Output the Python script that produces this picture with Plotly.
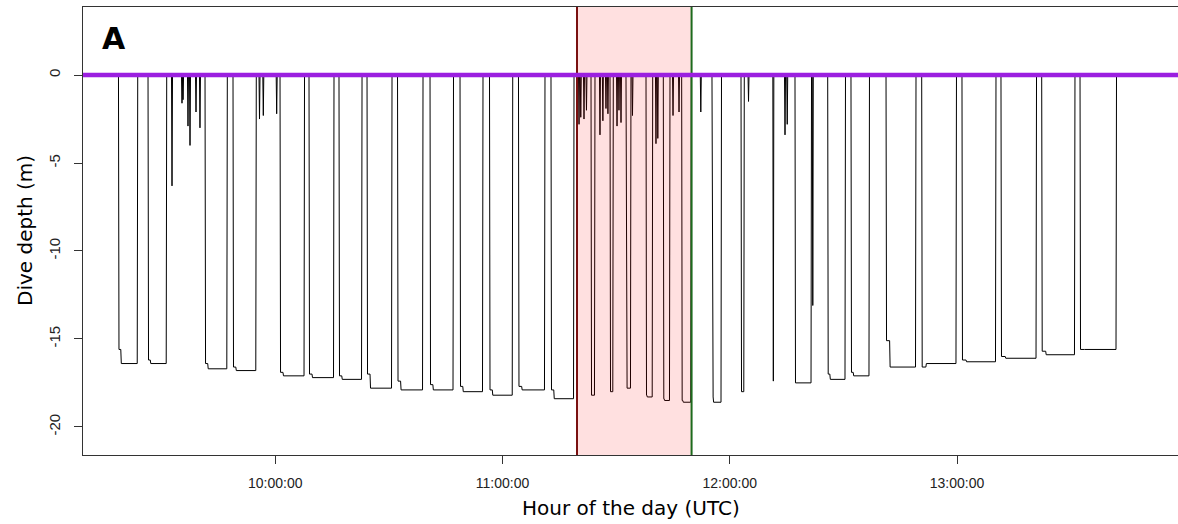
import plotly.graph_objects as go
from datetime import datetime, timedelta

DAY = "2019-07-15"

# Deep dives: start / end clock time (UTC), depth reached at first, and main bottom depth (m)
dive_start = ["09:18:37", "09:26:25", "09:41:28", "09:48:51", "10:01:16", "10:08:55", "10:16:50",
              "10:24:14", "10:32:17", "10:40:52", "10:48:47", "10:56:34", "11:04:13", "11:12:48",
              "11:23:22", "11:28:23", "11:32:36", "11:37:53", "11:42:27", "11:47:18",
              "11:55:18", "12:02:58", "12:17:13", "12:25:51", "12:32:00", "12:41:15", "12:50:40",
              "13:01:18", "13:11:36", "13:22:21", "13:32:28"]
dive_end = ["09:23:42", "09:31:21", "09:47:21", "09:55:00", "10:07:44", "10:15:31", "10:22:55",
            "10:30:50", "10:39:01", "10:47:04", "10:54:51", "11:02:42", "11:11:13", "11:18:53",
            "11:24:25", "11:29:15", "11:33:55", "11:39:39", "11:44:13", "11:49:50",
            "11:57:49", "12:03:50", "12:21:35", "12:30:33", "12:36:53", "12:49:10", "12:59:51",
            "13:10:17", "13:20:59", "13:31:08", "13:42:06"]
bottom_first = [-15.6, -16.2, -16.4, -16.6, -16.9, -17.0, -17.1, -17.0, -17.4, -17.6, -17.7, -17.9,
                -17.7, -17.9, -18.2, -18.0, -17.8, -18.2, -18.4, -18.5, -18.3, -18.0, -17.5, -17.0,
                -16.9, -15.1, -16.6, -16.2, -16.0, -15.7, -15.6]
bottom_main = [-16.4, -16.4, -16.7, -16.8, -17.1, -17.2, -17.3, -17.8, -17.9, -17.9, -18.0, -18.2,
               -17.9, -18.4, -18.2, -18.0, -17.8, -18.3, -18.5, -18.6, -18.6, -18.0, -17.5, -17.3,
               -17.1, -16.6, -16.4, -16.3, -16.1, -15.9, -15.6]

# Short excursions (time of max depth, max depth in m)
spike_time = ["09:32:45", "09:35:23", "09:35:40", "09:36:58", "09:37:30", "09:39:05", "09:40:08",
              "09:55:51", "09:56:51", "10:00:23", "11:20:12", "11:20:40", "11:21:31", "11:22:10",
              "11:25:44", "11:26:30", "11:27:19", "11:27:50", "11:30:14", "11:30:45", "11:31:17",
              "11:34:19", "11:40:31", "11:41:00", "11:45:01", "11:46:36", "11:52:21", "12:04:57",
              "12:11:30", "12:14:35", "12:15:10", "12:21:55"]
spike_depth = [-6.3, -1.6, -1.4, -2.9, -4.0, -2.1, -3.0, -2.5, -2.3, -2.2, -2.8, -2.4, -2.5, -2.0,
               -3.4, -2.6, -1.9, -2.2, -2.9, -2.0, -2.7, -2.3, -3.9, -3.6, -2.3, -2.1, -2.1, -1.5,
               -17.4, -3.4, -2.8, -13.1]

# Period of interest (shaded) and axis settings
period_start = "11:19:40"
period_end = "11:49:55"
x_range = ["09:09:15", "13:58:20"]
x_ticks = ["10:00:00", "11:00:00", "12:00:00", "13:00:00"]
y_range = [-21.6, 3.87]
y_ticks = [-20, -15, -10, -5, 0]
y_ticklabels = ["-20", "-15", "-10", "-5", "0"]


def ts(s):
    return datetime.strptime(f"{DAY} {s}", "%Y-%m-%d %H:%M:%S")


dt = timedelta(seconds=8)
segments = []
for s0, s1, b0, b1 in zip(dive_start, dive_end, bottom_first, bottom_main):
    t0, t1 = ts(s0), ts(s1)
    step = t0 + (t1 - t0) * 0.12
    segments.append([(t0, 0), (t0 + dt, b0), (step, b0), (step + dt, b1), (t1 - dt, b1), (t1, 0)])
for s, d in zip(spike_time, spike_depth):
    t = ts(s)
    segments.append([(t - dt, 0), (t, d), (t + dt, 0)])
segments.sort(key=lambda seg: seg[0][0])

xs, ys = [], []
for seg in segments:
    for t, d in seg:
        xs.append(t)
        ys.append(d)

fig = go.Figure()
fig.add_trace(go.Scatter(x=xs, y=ys, mode="lines",
                         line=dict(color="black", width=1), hoverinfo="skip",
                         showlegend=False))

AX = "#333333"
fig.update_layout(
    width=1178, height=524,
    margin=dict(l=83, r=0, t=7, b=69),
    paper_bgcolor="white", plot_bgcolor="white",
    showlegend=False,
    xaxis=dict(type="date", range=[ts(x_range[0]), ts(x_range[1])],
               tickvals=[ts(t) for t in x_ticks], ticktext=x_ticks,
               ticks="outside", ticklen=8, tickwidth=1, tickcolor=AX,
               showline=True, linecolor=AX, linewidth=1.2, mirror=True,
               showgrid=False, zeroline=False, ticklabelstandoff=7,
               tickfont=dict(family="Liberation Sans, Arial", size=14, color="#222222")),
    yaxis=dict(range=y_range, tickvals=y_ticks, ticktext=y_ticklabels, tickangle=-90,
               ticks="outside", ticklen=8, tickwidth=1, tickcolor=AX,
               showline=True, linecolor=AX, linewidth=1.2, mirror=False,
               showgrid=False, zeroline=False, ticklabelstandoff=8,
               tickfont=dict(family="Liberation Sans, Arial", size=15, color="#222222")),
)

fig.add_shape(type="rect", xref="x", yref="paper",
              x0=ts(period_start), x1=ts(period_end), y0=0, y1=1,
              fillcolor="rgba(255,0,0,0.12)", line=dict(width=0), layer="above")
fig.add_shape(type="line", xref="x", yref="paper",
              x0=ts(period_start), x1=ts(period_start), y0=0, y1=1,
              line=dict(color="#7a1010", width=2), layer="above")
fig.add_shape(type="line", xref="x", yref="paper",
              x0=ts(period_end), x1=ts(period_end), y0=0, y1=1,
              line=dict(color="#1d6b1d", width=2), layer="above")
fig.add_shape(type="line", xref="paper", yref="y",
              x0=0, x1=1, y0=0, y1=0,
              line=dict(color="#9b1fe0", width=4.5), layer="above")

fig.add_annotation(text="<b>A</b>", xref="paper", yref="paper",
                   x=(114 - 83) / 1095, y=(455 - 39) / 448,
                   xanchor="center", yanchor="middle", showarrow=False,
                   font=dict(family="DejaVu Sans", size=30, color="black"))
fig.add_annotation(text="Hour of the day (UTC)", xref="paper", yref="paper",
                   x=0.5, y=(455 - 508) / 448, xanchor="center", yanchor="middle",
                   showarrow=False,
                   font=dict(family="DejaVu Sans", size=20, color="black"))
fig.add_annotation(text="Dive depth (m)", xref="paper", yref="paper",
                   x=(25 - 83) / 1095, y=0.5, xanchor="center", yanchor="middle",
                   textangle=-90, showarrow=False,
                   font=dict(family="DejaVu Sans", size=20, color="black"))

fig.write_html("out.html", config={"displayModeBar": False},
               post_script="document.body.style.margin='0';document.body.style.overflow='hidden';")
